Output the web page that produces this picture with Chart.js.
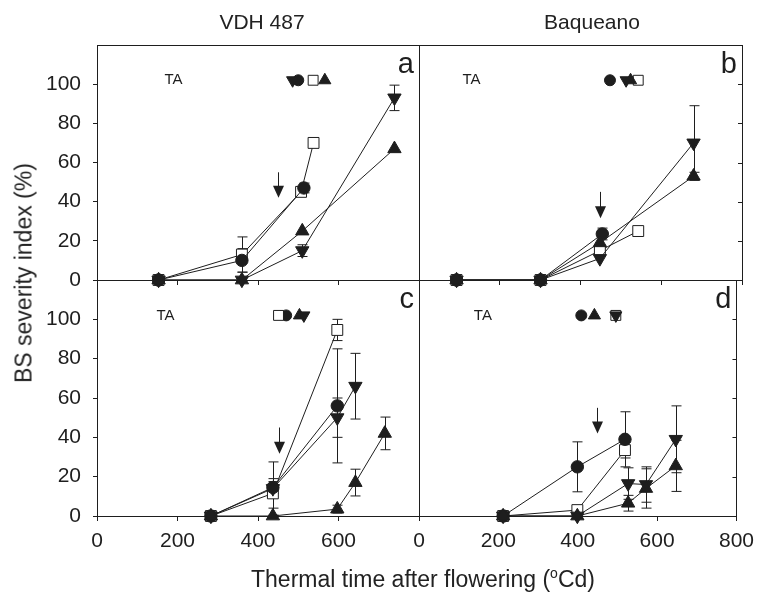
<!DOCTYPE html>
<html>
<head>
<meta charset="utf-8">
<script src="https://cdn.jsdelivr.net/npm/chart.js@4.4.0/dist/chart.umd.min.js"></script>
<style>
body{margin:0;background:#fff;}
#wrap{position:relative;width:762px;height:595px;font-family:'Liberation Sans',Arial,sans-serif;color:#222;}
canvas{position:absolute;left:0;top:0;}
.t{position:absolute;white-space:nowrap;font-size:21px;transform:translate(-50%,-50%);}
.t sup{font-size:14px;}
</style>
</head>
<body>
<div id="wrap">
<canvas id="ca" width="762" height="595"></canvas>
<canvas id="cb" width="762" height="595"></canvas>
<canvas id="cc" width="762" height="595"></canvas>
<canvas id="cd" width="762" height="595"></canvas>
<div class="t" style="left:262px;top:22px;">VDH 487</div>
<div class="t" style="left:592px;top:22px;">Baqueano</div>
<div class="t" style="left:423px;top:579px;font-size:23px;">Thermal time after flowering (<sup>o</sup>Cd)</div>
<div class="t" style="left:24px;top:273px;font-size:23px;transform:translate(-50%,-50%) rotate(-90deg);">BS severity index (%)</div>
</div>
<script>
// x = thermal time after flowering (oCd), y = BS severity index (%), e = error bar (+/-)
// panel a : VDH 487, upper row
var aCircX = [153, 360, 514], aCircY = [0, 10, 47], aCircE = [0, 6, 2.5];
var aSqX = [153, 360, 507, 538], aSqY = [0, 13, 45, 70], aSqE = [0, 9, 0, 0];
var aUpX = [153, 360, 510, 739], aUpY = [0, 0, 25, 67], aUpE = [0, 0, 0, 0];
var aDnX = [153, 360, 510, 739], aDnY = [0, 0, 15, 93], aDnE = [0, 0, 3, 6.5];
// panel b : Baqueano, upper row
var bCircX = [93, 301, 454], bCircY = [0, 0, 23.5], bCircE = [0, 0, 3];
var bSqX = [93, 301, 448, 543], bSqY = [0, 0, 15, 25], bSqE = [0, 0, 0, 0];
var bUpX = [93, 301, 448, 680], bUpY = [0, 0, 19, 53], bUpE = [0, 0, 0, 2];
var bDnX = [93, 301, 448, 680], bDnY = [0, 0, 11, 70], bDnE = [0, 0, 0, 19];
// panel c : VDH 487, lower row
var cCircX = [283, 437, 597], cCircY = [0, 14.5, 56], cCircE = [0, 3, 29];
var cSqX = [283, 437, 597], cSqY = [0, 11.5, 94.6], cSqE = [0, 7.5, 5.4];
var cUpX = [283, 437, 597, 642, 715], cUpY = [0, 0, 3.5, 17, 42], cUpE = [0, 0, 2, 6.8, 8.3];
var cDnX = [283, 437, 597, 642], cDnY = [0, 14, 50, 66], cDnE = [0, 13.5, 10, 16.7];
// panel d : Baqueano, lower row
var dCircX = [212, 399, 519], dCircY = [0, 25, 39], dCircE = [0, 12.7, 14];
var dSqX = [212, 399, 519], dSqY = [0, 3, 33.5], dSqE = [0, 0, 4];
var dUpX = [212, 399, 527, 572, 647], dUpY = [0, 0, 6.5, 14, 25.5], dUpE = [0, 0, 4, 10, 13];
var dDnX = [212, 399, 527, 572, 647], dDnY = [0, 0, 16.5, 16, 39], dDnE = [0, 0, 8, 9, 17];

// markers on the TA row, order: circle, square, up triangle, down triangle
var aTopX = [500, 537, 566, 486];
var bTopX = [473, 543, 524, 513];
var cTopX = [470, 451, 503, 514];
var dTopX = [409, 496, 442, 496];
var topRowY = 102;
var taX = [190, 130, 170, 161];
// arrows: x, top and tip value
var arrowX = [450, 449, 451, 449];
var arrowTop = [55, 45, 45, 55];
var arrowTip = [42, 31.5, 31.6, 42];
var letters = ['a', 'b', 'c', 'd'];

var INK = '#1e1e1e';
var FONT = "'Liberation Sans', Arial, sans-serif";

var styles = {
	circ: {pointStyle: 'circle', pointRadius: 6.2, pointBackgroundColor: INK, pointBorderColor: INK},
	sq: {pointStyle: 'rect', pointRadius: 7.7, pointBackgroundColor: '#fff', pointBorderColor: INK, pointBorderWidth: 1},
	up: {pointStyle: 'triangle', pointRadius: 7.7, pointBackgroundColor: INK, pointBorderColor: INK},
	dn: {pointStyle: 'triangle', pointRadius: 7.7, pointRotation: 180, pointBackgroundColor: INK, pointBorderColor: INK}
};

function series(xs, ys, es, st) {
	var ds = {
		data: xs.map(function(x, i) { return {x: x, y: ys[i]}; }),
		err: es,
		showLine: true,
		borderColor: INK,
		borderWidth: 1,
		clip: false
	};
	for (var k in styles[st]) ds[k] = styles[st][k];
	return ds;
}

function topRow(xs) {
	return {
		data: xs.map(function(x) { return {x: x, y: topRowY}; }),
		showLine: false,
		clip: false,
		pointStyle: ['circle', 'rect', 'triangle', 'triangle'],
		pointRotation: [0, 0, 0, 180],
		pointRadius: [5.5, 7, 7, 7],
		pointBackgroundColor: [INK, '#fff', INK, INK],
		pointBorderColor: INK,
		pointBorderWidth: 1
	};
}

var deco = {
	id: 'deco',
	beforeDatasetsDraw: function(chart) {
		var ctx = chart.ctx, a = chart.chartArea, x = chart.scales.x, y = chart.scales.y;
		var n = chart.options.plugins.deco.panel;
		ctx.save();
		ctx.strokeStyle = INK;
		ctx.lineWidth = 1;
		ctx.strokeRect(Math.round(a.left) + 0.5, Math.round(a.top) + 0.5, Math.round(a.right - a.left), Math.round(a.bottom - a.top));
		// small inward ticks on the right frame of the right-hand panels
		if (n % 2 === 1) {
			ctx.beginPath();
			y.ticks.forEach(function(t) {
				if (t.value <= 0 || t.value > 100) return;
				var py = Math.round(y.getPixelForValue(t.value)) + 0.5;
				ctx.moveTo(a.right, py); ctx.lineTo(a.right - 4, py);
			});
			ctx.stroke();
		}
		// error bars
		chart.data.datasets.forEach(function(ds) {
			if (!ds.err) return;
			ds.data.forEach(function(p, i) {
				var e = ds.err[i];
				if (!e) return;
				var px = Math.round(x.getPixelForValue(p.x)) + 0.5;
				var y1 = y.getPixelForValue(p.y + e), y2 = y.getPixelForValue(p.y - e);
				ctx.beginPath();
				ctx.moveTo(px, y1); ctx.lineTo(px, y2);
				ctx.moveTo(px - 5, y1); ctx.lineTo(px + 5, y1);
				ctx.moveTo(px - 5, y2); ctx.lineTo(px + 5, y2);
				ctx.stroke();
			});
		});
		ctx.restore();
	},
	afterDatasetsDraw: function(chart) {
		var ctx = chart.ctx, a = chart.chartArea, x = chart.scales.x, y = chart.scales.y;
		var n = chart.options.plugins.deco.panel;
		ctx.save();
		ctx.fillStyle = INK;
		ctx.strokeStyle = INK;
		// TA label
		ctx.font = '15px ' + FONT;
		ctx.textAlign = 'center';
		ctx.textBaseline = 'middle';
		ctx.fillText('TA', x.getPixelForValue(taX[n]), y.getPixelForValue(topRowY));
		// panel letter
		ctx.font = '29px ' + FONT;
		ctx.textAlign = 'right';
		ctx.textBaseline = 'alphabetic';
		ctx.fillText(letters[n], a.right - 5, a.top + 28);
		// arrow
		var ax = Math.round(x.getPixelForValue(arrowX[n])) + 0.5;
		var top = y.getPixelForValue(arrowTop[n]), tip = y.getPixelForValue(arrowTip[n]);
		ctx.lineWidth = 1;
		ctx.beginPath();
		ctx.moveTo(ax, top); ctx.lineTo(ax, tip - 10);
		ctx.stroke();
		ctx.beginPath();
		ctx.moveTo(ax - 5.5, tip - 12);
		ctx.lineTo(ax + 5.5, tip - 12);
		ctx.lineTo(ax, tip);
		ctx.closePath();
		ctx.fill();
		ctx.restore();
	}
};

var AREA_X = [[97, 419], [419, 742]];
var AREA_Y = [[45, 280], [280, 516]];

function makePanel(id, n, col, row, sets, topX) {
	var datasets = sets.slice();
	datasets.push(topRow(topX));
	return new Chart(document.getElementById(id), {
		type: 'scatter',
		data: {datasets: datasets},
		options: {
			responsive: false,
			animation: false,
			devicePixelRatio: 1,
			layout: {padding: {
				left: AREA_X[col][0] - 60,
				right: 762 - AREA_X[col][1],
				top: AREA_Y[row][0],
				bottom: 595 - AREA_Y[row][1] - 40
			}},
			plugins: {legend: {display: false}, tooltip: {enabled: false}, deco: {panel: n}},
			scales: {
				x: {
					type: 'linear', min: 0, max: 800,
					afterFit: function(s) { s.height = 40; },
					ticks: {
						display: row === 1, stepSize: 200, autoSkip: false, maxRotation: 0,
						padding: 8, color: INK, font: {size: 21, family: FONT},
						callback: function(v) { return (col === 0 && v === 800) ? '' : v; }
					},
					grid: {drawOnChartArea: false, tickLength: 5, color: INK},
					border: {color: INK}
				},
				y: {
					min: 0, max: 120,
					afterFit: function(s) { s.width = 60; },
					ticks: {
						display: col === 0, stepSize: 20, padding: 12, color: INK,
						font: {size: 21, family: FONT},
						callback: function(v) { return v > 100 ? '' : v; }
					},
					grid: {
						drawOnChartArea: false, drawTicks: col === 0, tickLength: 4,
						color: function(c) { return c.tick && c.tick.value > 100 ? 'rgba(0,0,0,0)' : INK; }
					},
					border: {color: INK}
				}
			}
		},
		plugins: [deco]
	});
}

makePanel('ca', 0, 0, 0, [
	series(aUpX, aUpY, aUpE, 'up'), series(aDnX, aDnY, aDnE, 'dn'),
	series(aCircX, aCircY, aCircE, 'circ'), series(aSqX, aSqY, aSqE, 'sq')
], aTopX);
makePanel('cb', 1, 1, 0, [
	series(bUpX, bUpY, bUpE, 'up'), series(bDnX, bDnY, bDnE, 'dn'),
	series(bCircX, bCircY, bCircE, 'circ'), series(bSqX, bSqY, bSqE, 'sq')
], bTopX);
makePanel('cc', 2, 0, 1, [
	series(cUpX, cUpY, cUpE, 'up'), series(cDnX, cDnY, cDnE, 'dn'),
	series(cCircX, cCircY, cCircE, 'circ'), series(cSqX, cSqY, cSqE, 'sq')
], cTopX);
makePanel('cd', 3, 1, 1, [
	series(dUpX, dUpY, dUpE, 'up'), series(dDnX, dDnY, dDnE, 'dn'),
	series(dCircX, dCircY, dCircE, 'circ'), series(dSqX, dSqY, dSqE, 'sq')
], dTopX);
</script>
</body>
</html>
